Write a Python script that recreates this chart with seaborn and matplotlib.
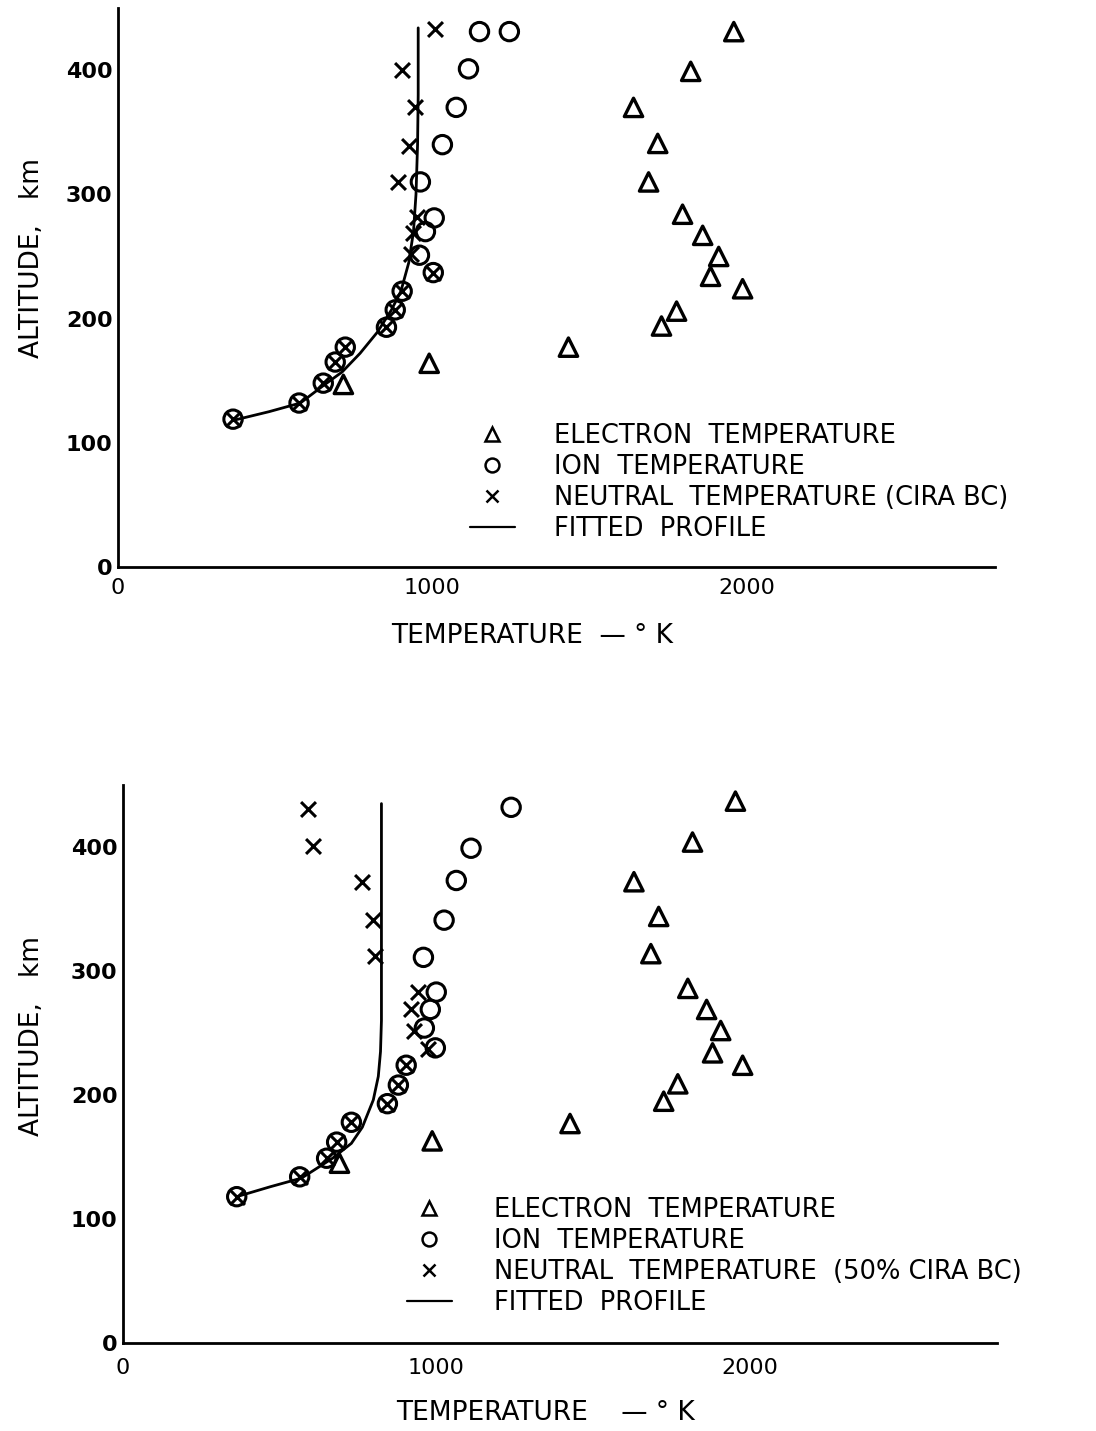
import numpy as np
import pandas as pd
import matplotlib
matplotlib.use("Agg")
import matplotlib.pyplot as plt
from matplotlib.lines import Line2D
import seaborn as sns

# ---------------- data ----------------
# Top panel
elec_T_top = [1959, 1822, 1640, 1717, 1688, 1796, 1860, 1911, 1885, 1987, 1777, 1729, 1433, 990, 717]
elec_alt_top = [431, 399, 370, 341, 310, 284, 267, 250, 234, 224, 206, 194, 177, 164, 147]
ion_T_top = [1150, 1245, 1115, 1076, 1032, 962, 1006, 978, 959, 1003, 904, 882, 854, 723, 691, 653, 576, 366]
ion_alt_top = [431, 431, 401, 370, 340, 310, 281, 270, 251, 237, 222, 207, 193, 177, 165, 148, 132, 119]
neu_T_top = [1010, 904, 946, 927, 892, 952, 940, 933, 1003, 904, 882, 854, 723, 691, 653, 576, 366]
neu_alt_top = [433, 400, 370, 339, 310, 282, 269, 252, 237, 222, 207, 193, 177, 165, 148, 132, 119]
fit_T_top = [366, 480, 580, 653, 713, 770, 825, 870, 900, 925, 940, 948, 953, 955, 955]
fit_alt_top = [118, 125, 132, 146, 157, 172, 189, 207, 222, 245, 270, 300, 340, 380, 434]

# Bottom panel
elec_T_bot = [1955, 1818, 1631, 1710, 1685, 1803, 1863, 1908, 1882, 1978, 1771, 1726, 1427, 987, 691]
elec_alt_bot = [437, 404, 372, 344, 314, 286, 269, 252, 234, 224, 209, 195, 177, 163, 145]
ion_T_bot = [1239, 1111, 1064, 1025, 959, 1000, 981, 962, 997, 904, 879, 844, 729, 682, 650, 564, 363]
ion_alt_bot = [432, 399, 373, 341, 311, 283, 269, 254, 238, 224, 208, 193, 178, 162, 149, 134, 118]
neu_T_bot = [592, 608, 764, 799, 803, 943, 920, 930, 975, 904, 879, 844, 729, 682, 650, 564, 363]
neu_alt_bot = [431, 401, 372, 341, 312, 283, 269, 252, 237, 224, 208, 193, 178, 162, 149, 134, 118]
fit_T_bot = [363, 470, 570, 669, 729, 764, 799, 815, 822, 825, 825]
fit_alt_bot = [118, 126, 133, 149, 161, 174, 196, 215, 235, 260, 435]

# Axis ticks / labels
x_ticks = [0, 500, 1000, 1500, 2000, 2500]
x_tick_labels = ["0", "", "1000", "", "2000", ""]
y_ticks = [0, 100, 200, 300, 400]
y_tick_labels = ["0", "100", "200", "300", "400"]

legend_top = ["ELECTRON  TEMPERATURE", "ION  TEMPERATURE",
              "NEUTRAL  TEMPERATURE (CIRA BC)", "FITTED  PROFILE"]
legend_bot = ["ELECTRON  TEMPERATURE", "ION  TEMPERATURE",
              "NEUTRAL  TEMPERATURE  (50% CIRA BC)", "FITTED  PROFILE"]
xlabel_top = "TEMPERATURE  — ° K"
xlabel_bot = "TEMPERATURE    — ° K"
ylabel_txt = "ALTITUDE,   km"

# ---------------- style ----------------
sns.set_style("white")
plt.rcParams["font.family"] = ["DejaVu Sans"]
for key in ["text.color", "axes.labelcolor", "xtick.color", "ytick.color"]:
    plt.rcParams[key] = "black"

W, H = 1096, 1431
fig = plt.figure(figsize=(W / 100, H / 100), dpi=100)
ax1 = fig.add_axes([118 / W, (H - 567) / H, 877 / W, 559 / H])
ax2 = fig.add_axes([123 / W, (H - 1343) / H, 874 / W, 558 / H])


def draw(ax, eT, eA, iT, iA, nT, nA, fT, fA, labels, leg_x, leg_y, textpad,
         xlab, xlab_x, xlab_y, ylab_x, ylab_y, xpad):
    sns.scatterplot(x=eT, y=eA, marker="^", s=175, facecolor="none",
                    edgecolor="black", linewidth=2.4, ax=ax, legend=False, zorder=3)
    sns.scatterplot(x=iT, y=iA, marker="o", s=175, facecolor="none",
                    edgecolor="black", linewidth=2.2, ax=ax, legend=False, zorder=3)
    sns.scatterplot(x=nT, y=nA, marker="x", s=115, color="black",
                    linewidth=2.2, ax=ax, legend=False, zorder=4)
    sns.lineplot(x=fT, y=fA, sort=False, estimator=None, color="black",
                 linewidth=2.0, ax=ax, legend=False, zorder=2)

    ax.set_xlim(0, 2790)
    ax.set_ylim(0, 450)
    ax.set_xticks(x_ticks)
    ax.set_xticklabels(x_tick_labels)
    ax.set_yticks(y_ticks)
    ax.set_yticklabels(y_tick_labels)
    ax.tick_params(axis="both", direction="in", length=10, width=1.8, color="black")
    ax.tick_params(axis="x", labelsize=16, pad=xpad, labelcolor="black")
    ax.tick_params(axis="y", labelsize=16, pad=4, labelcolor="black")
    for lbl in ax.get_yticklabels():
        lbl.set_fontweight("bold")
    sns.despine(ax=ax)
    for sp in ["left", "bottom"]:
        ax.spines[sp].set_linewidth(2.0)
        ax.spines[sp].set_color("black")

    ax.set_xlabel(xlab, fontsize=19, color="black")
    ax.xaxis.set_label_coords(xlab_x, xlab_y)
    ax.set_ylabel(ylabel_txt, fontsize=19, color="black")
    ax.yaxis.set_label_coords(ylab_x, ylab_y)

    handles = [
        Line2D([], [], linestyle="none", marker="^", markersize=10, markerfacecolor="none",
               markeredgecolor="black", markeredgewidth=1.8),
        Line2D([], [], linestyle="none", marker="o", markersize=10, markerfacecolor="none",
               markeredgecolor="black", markeredgewidth=1.8),
        Line2D([], [], linestyle="none", marker="x", markersize=9, color="black",
               markeredgewidth=1.8),
        Line2D([], [], color="black", linewidth=1.6),
    ]
    leg = ax.legend(handles=handles, labels=labels, loc="upper left",
                    bbox_to_anchor=(leg_x, leg_y), frameon=False, fontsize=18.5,
                    handlelength=1.75, handletextpad=textpad, labelspacing=0.2,
                    borderpad=0, borderaxespad=0)
    for t in leg.get_texts():
        t.set_color("black")


draw(ax1, elec_T_top, elec_alt_top, ion_T_top, ion_alt_top, neu_T_top, neu_alt_top,
     fit_T_top, fit_alt_top, legend_top, (470 - 118) / 877, (567 - 423) / 559, 1.5,
     xlabel_top, (532 - 118) / 877, -(623 - 567) / 559, -(118 - 45) / 877, (567 - 258) / 559, 8)
draw(ax2, elec_T_bot, elec_alt_bot, ion_T_bot, ion_alt_bot, neu_T_bot, neu_alt_bot,
     fit_T_bot, fit_alt_bot, legend_bot, (407 - 123) / 874, (1343 - 1197) / 558, 1.65,
     xlabel_bot, (545 - 123) / 874, -(1400 - 1343) / 558, -(123 - 45) / 874, (1343 - 1036) / 558, 11)

fig.savefig("out.png", dpi=100)
